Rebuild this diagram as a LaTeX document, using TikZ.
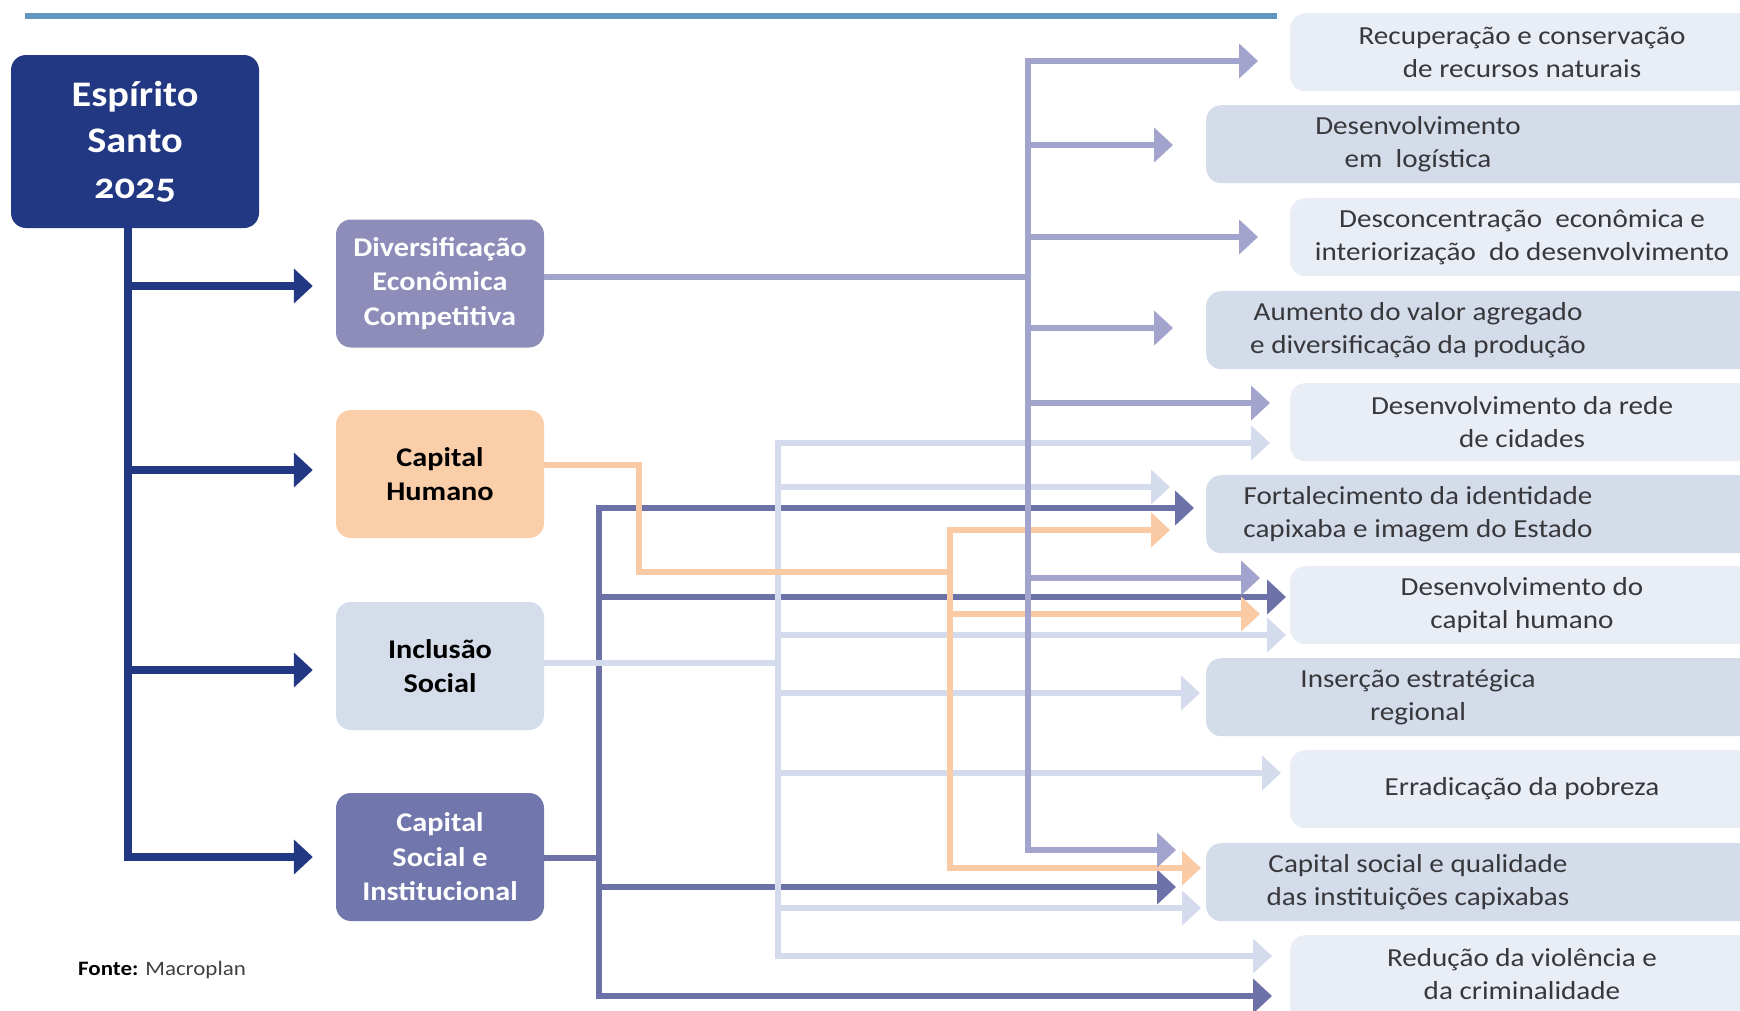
\documentclass[tikz,border=0pt]{standalone}
\usepackage{fontspec}
\setmainfont{Carlito}[FakeStretch=1.12]
\usetikzlibrary{arrows.meta,calc}
\definecolor{navy}{RGB}{35,56,130}
\definecolor{divc}{RGB}{142,140,185}
\definecolor{divl}{RGB}{163,164,206}
\definecolor{chc}{RGB}{250,206,168}
\definecolor{chl}{RGB}{249,202,164}
\definecolor{incc}{RGB}{214,221,234}
\definecolor{incl}{RGB}{211,219,236}
\definecolor{csic}{RGB}{113,119,172}
\definecolor{csil}{RGB}{108,114,168}
\definecolor{rlight}{RGB}{233,238,246}
\definecolor{rdark}{RGB}{213,220,233}
\definecolor{hdr}{RGB}{99,149,192}
\definecolor{txtc}{RGB}{55,55,60}
\begin{document}
\begin{tikzpicture}[x=1pt,y=-1pt,
  esbox/.style={fill=navy, text=white, rounded corners=15pt, minimum width=248pt, minimum height=173pt,
    align=center, inner sep=0pt, font=\fontsize{36}{46}\selectfont\bfseries},
  mbox/.style={rounded corners=15pt, minimum width=208pt, minimum height=128pt, align=center,
    inner sep=0pt, font=\fontsize{27}{34.5}\selectfont\bfseries},
  rboxA/.style={fill=rlight, rounded corners=15pt, minimum width=520pt, minimum height=78pt, anchor=north west, inner sep=0pt},
  rboxB/.style={fill=rdark, rounded corners=15pt, minimum width=600pt, minimum height=78pt, anchor=north west, inner sep=0pt},
  rtxt/.style={align=center, text=txtc, font=\fontsize{26}{33}\selectfont, inner sep=0pt},
  conn/.style={line width=5.5pt},
  rtip/.style={-{Triangle[length=19pt,width=34pt]}},
  lav/.style={conn, draw=divl, rtip},
  pch/.style={conn, draw=chl, rtip},
  lbl/.style={conn, draw=incl, rtip},
  slt/.style={conn, draw=csil, rtip},
  nav/.style={line width=8pt, draw=navy, -{Triangle[length=19pt,width=34pt]}},
]
\useasboundingbox (0,0) rectangle (1740,1010);
\clip (0,0) rectangle (1740,1010);
\fill[white] (0,0) rectangle (1740,1010);

% header rule
\draw[hdr, line width=6pt] (25,16) -- (1277,16);

% main box
\node[esbox] (es) at (135,141.5) {Espírito\\Santo\\{\addfontfeatures{Numbers=OldStyle}2025}};

% middle boxes
\node[mbox, fill=divc, text=white] (div) at (440,283.5) {Diversificação\\Econômica\\Competitiva};
\node[mbox, fill=chc, text=black] (ch) at (440,474) {Capital\\Humano};
\node[mbox, fill=incc, text=black] (inc) at (440,666) {Inclusão\\Social};
\node[mbox, fill=csic, text=white] (csi) at (440,857) {Capital\\Social e\\Institucional};

% right boxes
\node[rboxA] (r1) at (1290,13) {};
\node[rboxB] (r2) at (1206,105) {};
\node[rboxA] (r3) at (1290,198) {};
\node[rboxB] (r4) at (1206,291) {};
\node[rboxA] (r5) at (1290,383) {};
\node[rboxB] (r6) at (1206,475) {};
\node[rboxA] (r7) at (1290,566) {};
\node[rboxB] (r8) at (1206,658) {};
\node[rboxA] (r9) at (1290,750) {};
\node[rboxB] (r10) at (1206,843) {};
\node[rboxA, minimum height=120pt] (r11) at (1290,935) {};

\node[rtxt] (t1) at (1522,52) {Recuperação e conservação\\de recursos naturais};
\node[rtxt] (t2) at (1418,144) {Desenvolvimento\\em\ \ logística};
\node[rtxt] (t3) at (1522,237) {Desconcentração\ \ econômica e\\interiorização\ \ do desenvolvimento};
\node[rtxt] (t4) at (1418,330) {Aumento do valor agregado\\e diversificação da produção};
\node[rtxt] (t5) at (1522,422) {Desenvolvimento da rede\\de cidades};
\node[rtxt] (t6) at (1418,514) {Fortalecimento da identidade\\capixaba e imagem do Estado};
\node[rtxt] (t7) at (1522,605) {Desenvolvimento do\\capital humano};
\node[rtxt] (t8) at (1418,697) {Inserção estratégica\\regional};
\node[rtxt] (t9) at (1522,789) {Erradicação da pobreza};
\node[rtxt] (t10) at (1418,882) {Capital social e qualidade\\das instituições capixabas};
\node[rtxt] (t11) at (1522,974) {Redução da violência e\\da criminalidade};

% source
\node[anchor=base west, inner sep=0pt, font=\fontsize{20.5}{24}\selectfont] (src) at (78,975)
  {\textbf{Fonte:} \textcolor{black!75}{Macroplan}};

% navy spine and arrows
\coordinate (sp) at ([xshift=-7.5pt]es.south);
\draw[nav, shorten >=23pt] (sp) |- (csi.west);
\draw[nav, shorten >=23pt] (sp |- 0,286) -- (div.west |- 0,286);
\draw[nav, shorten >=23pt] (sp |- 0,470) -- (ch.west |- 0,470);
\draw[nav, shorten >=23pt] (sp |- 0,670) -- (inc.west |- 0,670);

% --- Capital Social e Institucional (slate)
\coordinate (sb) at (599,858);
\draw[conn, draw=csil] (csi.east |- sb) -- (sb);
\draw[slt, shorten >=12pt] (sb) |- (r6.west |- 0,508);
\draw[slt, shorten >=18pt] (sb) |- (r11.west |- 0,996);
\draw[slt, shorten >=4pt] (sb |- 0,597) -- (r7.west |- 0,597);
\draw[slt, shorten >=30pt] (sb |- 0,887) -- (r10.west |- 0,887);

% --- Inclusão Social (light blue)
\coordinate (bb) at (778,663);
\draw[conn, draw=incl] (inc.east |- bb) -- (bb);
\draw[lbl, shorten >=20pt] (bb) |- (r5.west |- 0,443);
\draw[lbl, shorten >=18pt] (bb) |- (r11.west |- 0,956);
\draw[lbl, shorten >=36pt] (bb |- 0,487) -- (r6.west |- 0,487);
\draw[lbl, shorten >=4pt] (bb |- 0,635) -- (r7.west |- 0,635);
\draw[lbl, shorten >=6pt] (bb |- 0,693) -- (r8.west |- 0,693);
\draw[lbl, shorten >=9pt] (bb |- 0,773) -- (r9.west |- 0,773);
\draw[lbl, shorten >=5pt] (bb |- 0,908) -- (r10.west |- 0,908);

% --- Capital Humano (peach)
\coordinate (pb) at (950,572);
\draw[conn, draw=chl] (ch.east |- 0,465) -| (639,572) -- (pb);
\draw[pch, shorten >=36pt] (pb) |- (r6.west |- 0,530);
\draw[pch, shorten >=5pt] (pb) |- (r10.west |- 0,868);
\draw[pch, shorten >=30pt] (pb |- 0,614) -- (r7.west |- 0,614);

% --- Diversificação (lavender)
\coordinate (lb) at (1028,277);
\draw[conn, draw=divl] (div.east |- lb) -- (lb);
\draw[lav, shorten >=32pt] (lb) |- (r1.west |- 0,61);
\draw[lav, shorten >=30pt] (lb) |- (r10.west |- 0,850);
\draw[lav, shorten >=33pt] (lb |- 0,145) -- (r2.west |- 0,145);
\draw[lav, shorten >=32pt] (lb |- 0,237) -- (r3.west |- 0,237);
\draw[lav, shorten >=33pt] (lb |- 0,328) -- (r4.west |- 0,328);
\draw[lav, shorten >=20pt] (lb |- 0,403) -- (r5.west |- 0,403);
\draw[lav, shorten >=30pt] (lb |- 0,578) -- (r7.west |- 0,578);
\end{tikzpicture}
\end{document}
